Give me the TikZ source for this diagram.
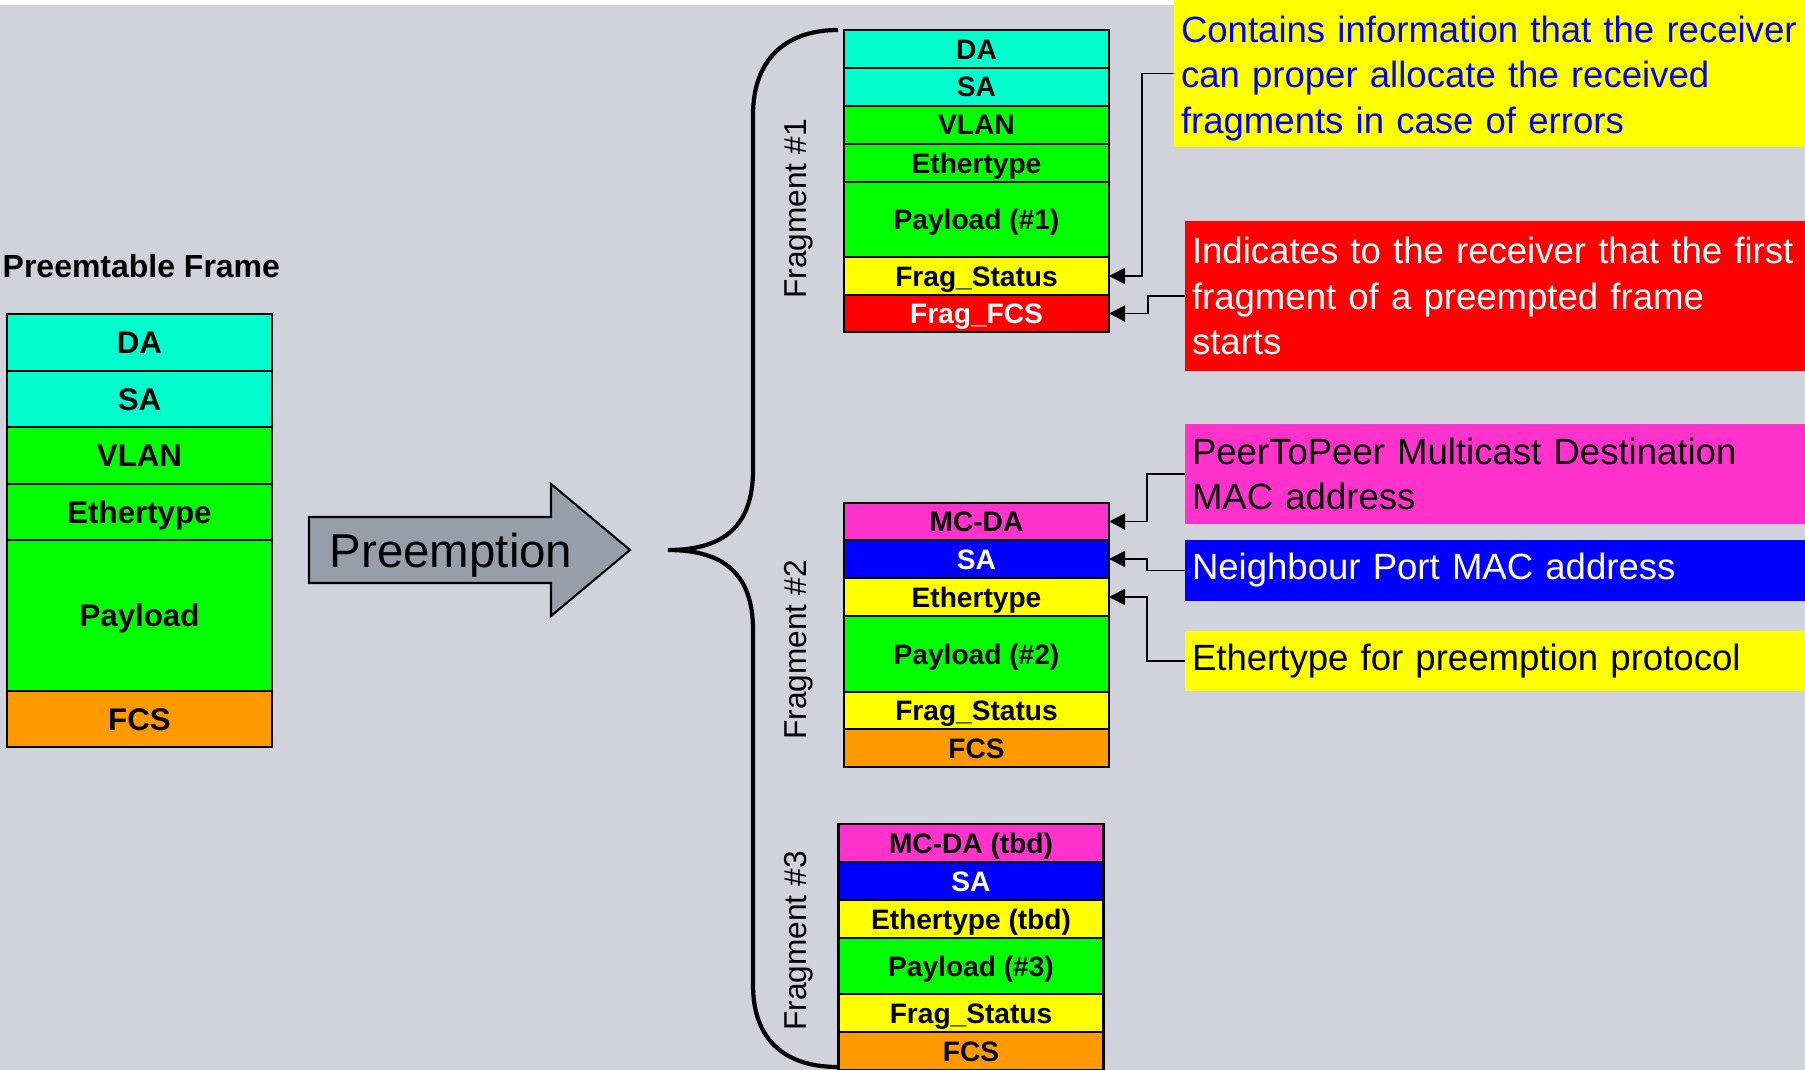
\documentclass[tikz,border=0pt]{standalone}
\usepackage{fontspec}
\setmainfont{Liberation Sans}
\usetikzlibrary{positioning,arrows.meta}
\definecolor{bgray}{RGB}{208,211,220}
\definecolor{agray}{RGB}{150,158,170}
\definecolor{fcyan}{RGB}{0,255,204}
\definecolor{fgreen}{RGB}{0,255,0}
\definecolor{forange}{RGB}{255,153,0}
\definecolor{fyellow}{RGB}{255,255,0}
\definecolor{fred}{RGB}{255,0,0}
\definecolor{fpink}{RGB}{255,51,204}
\definecolor{fblue}{RGB}{0,0,255}

\begin{document}
\begin{tikzpicture}[x=0.1mm, y=-0.1mm, node distance=0pt,
    field/.style={draw, line width=0.6pt, rectangle, inner sep=0pt, outer sep=0pt, minimum width=26.5mm, minimum height=5.6mm, text height=2.2mm, text depth=0pt, font=\fontsize{8.9}{10}\selectfont\bfseries},
    frag/.style={draw, line width=0.6pt, rectangle, inner sep=0pt, outer sep=0pt, minimum width=26.5mm, minimum height=3.8mm, text height=2mm, text depth=0pt, font=\fontsize{8}{9}\selectfont\bfseries},
    note/.style={rectangle, anchor=north west, inner xsep=0.7mm, inner ysep=0pt, outer sep=0pt, text width=60.6mm, align=left, font=\fontsize{10.4}{13}\selectfont},
    fraglabel/.style={rotate=90, inner sep=0pt, font=\fontsize{9}{10}\selectfont},
    link/.style={line width=0.5pt, -{Triangle[length=1.6mm, width=1.6mm]}}]
    \useasboundingbox (0,0) rectangle (1805,1070);
    \fill[bgray] (0,0) rectangle (1805,1070);
    \fill[white] (0,0) rectangle (1174,5);

    \node[anchor=west, inner sep=0pt, font=\fontsize{9.1}{10}\selectfont\bfseries] (title) at (2,266) {Preemtable Frame};
    \node[field, fill=fcyan, anchor=north, minimum height=5.7mm] (da) at (139.5,314) {DA};
    \node[field, fill=fcyan, below=of da] (sa) {SA};
    \node[field, fill=fgreen, below=of sa, minimum height=5.7mm] (vlan) {VLAN};
    \node[field, fill=fgreen, below=of vlan] (etype) {Ethertype};
    \node[field, fill=fgreen, below=of etype, minimum height=15.1mm] (pay) {Payload};
    \node[field, fill=forange, below=of pay] (fcs) {FCS};

    \draw[fill=agray, line width=0.6pt] (309,517) -- (551,517) -- (551,484) -- (630,550) -- (551,616) -- (551,583) -- (309,583) -- cycle;
    \node[anchor=west, inner sep=0pt, font=\fontsize{13.5}{15}\selectfont] (pre) at (329,555) {Preemption};

    \draw[line width=1.2pt] (838,30) .. controls (785,30) and (753,60) .. (753,115) -- (753,470) .. controls (753,525) and (725,550) .. (668,550) .. controls (725,550) and (753,575) .. (753,630) -- (753,985) .. controls (753,1040) and (785,1067) .. (838,1067);

    \node[frag, fill=fcyan, anchor=north] (da1) at (976.5,30) {DA};
    \node[frag, fill=fcyan, below=of da1] (sa1) {SA};
    \node[frag, fill=fgreen, below=of sa1] (vlan1) {VLAN};
    \node[frag, fill=fgreen, below=of vlan1] (etype1) {Ethertype};
    \node[frag, fill=fgreen, below=of etype1, minimum height=7.5mm] (pay1) {Payload (\#1)};
    \node[frag, fill=fyellow, below=of pay1] (fst1) {Frag\_Status};
    \node[frag, fill=fred, text=white, below=of fst1, minimum height=3.7mm] (ffcs1) {Frag\_FCS};
    \node[fraglabel] (lab1) at (799,209) {Fragment \#1};

    \node[frag, fill=fpink, anchor=north, minimum height=3.7mm] (mcda2) at (976.5,503) {MC-DA};
    \node[frag, fill=fblue, text=white, below=of mcda2] (sa2) {SA};
    \node[frag, fill=fyellow, below=of sa2] (etype2) {Ethertype};
    \node[frag, fill=fgreen, below=of etype2, minimum height=7.6mm] (pay2) {Payload (\#2)};
    \node[frag, fill=fyellow, below=of pay2, minimum height=3.7mm] (fst2) {Frag\_Status};
    \node[frag, fill=forange, below=of fst2] (fcs2) {FCS};
    \node[fraglabel] (lab2) at (799,650) {Fragment \#2};

    \node[frag, fill=fpink, anchor=north] (mcda3) at (971,824) {MC-DA (tbd)};
    \node[frag, fill=fblue, text=white, below=of mcda3] (sa3) {SA};
    \node[frag, fill=fyellow, below=of sa3] (etype3) {Ethertype (tbd)};
    \node[frag, fill=fgreen, below=of etype3, minimum height=5.6mm] (pay3) {Payload (\#3)};
    \node[frag, fill=fyellow, below=of pay3] (fst3) {Frag\_Status};
    \node[frag, fill=forange, below=of fst3] (fcs3) {FCS};
    \node[fraglabel] (lab3) at (799,941) {Fragment \#3};

    \node[note, fill=fyellow, text=fblue, text width=61.7mm, minimum height=14.7mm] (info) at (1174,0) {\rule{0pt}{10.4pt}Contains information that the receiver\\can proper allocate the received\\fragments in case of errors};
    \node[note, fill=fred, text=white, minimum height=15mm] (first) at (1185,221) {Indicates to the receiver that the first\\fragment of a preempted frame\\starts};
    \node[note, fill=fpink, minimum height=10mm] (mcast) at (1185,424) {PeerToPeer Multicast Destination\\MAC address};
    \node[note, fill=fblue, text=white, minimum height=6.1mm] (port) at (1185,540) {Neighbour Port MAC address};
    \node[note, fill=fyellow, minimum height=6mm] (ptype) at (1185,631) {Ethertype for preemption protocol};

    \draw[link] (info.west) -- ++(-32,0) |- (fst1.east);
    \draw[link] (first.west) -- ++(-37,0) |- (ffcs1.east);
    \draw[link] (mcast.west) -- ++(-38,0) |- (mcda2.east);
    \draw[link] (port.west) -- ++(-38,0) |- (sa2.east);
    \draw[link] (ptype.west) -- ++(-38,0) |- (etype2.east);
\end{tikzpicture}
\end{document}
